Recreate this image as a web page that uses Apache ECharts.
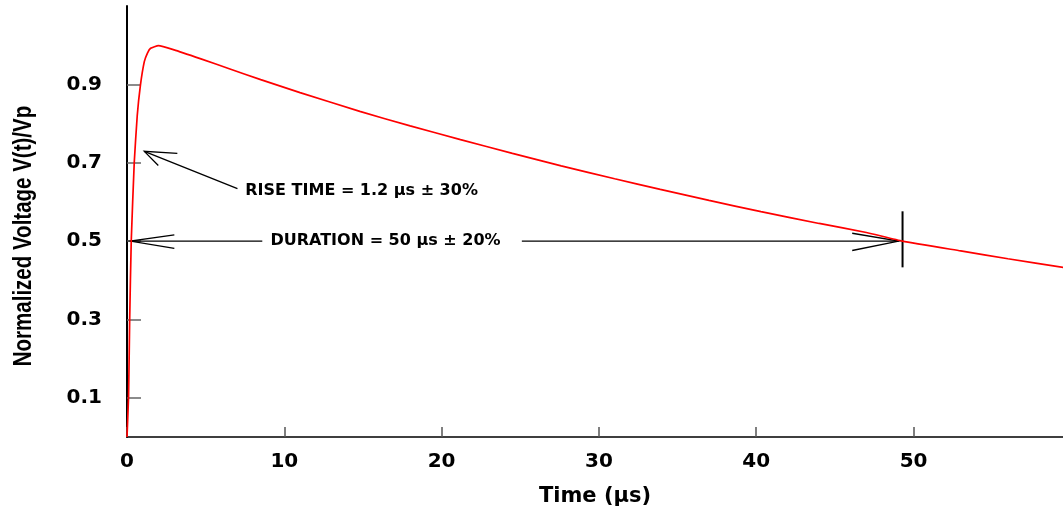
<!DOCTYPE html>
<html>
<head>
<meta charset="utf-8">
<script src="https://cdn.jsdelivr.net/npm/echarts@6/dist/echarts.min.js"></script>
<style>
html,body{margin:0;padding:0;background:#fff;}
#chart{width:1063px;height:512px;}
</style>
</head>
<body>
<div id="chart"></div>
<script>
// Waveform samples: time (µs) and normalized voltage
const timeUs = [0, 0.1, 0.17, 0.27, 0.46, 0.65, 0.85, 1.1, 1.3, 1.5, 2.0, 3.0, 4.7, 6.5, 8.5, 11, 14.8, 18, 21.2, 24.5, 27.6, 31, 33.9, 37, 40.3, 44, 47, 49.3, 53, 56, 59.6];
const voltage = [0, 0.105, 0.30, 0.50, 0.70, 0.82, 0.897, 0.958, 0.98, 0.992, 0.999, 0.988, 0.965, 0.940, 0.912, 0.879, 0.831, 0.794, 0.759, 0.724, 0.692, 0.659, 0.632, 0.604, 0.575, 0.545, 0.522, 0.500, 0.475, 0.455, 0.432];

// Tick labels
const xTicks = [0, 10, 20, 30, 40, 50];
const yTicks = [0.1, 0.3, 0.5, 0.7, 0.9];

// Annotation geometry, in data coordinates (µs, normalized voltage)
const riseShaft = [[7.02, 0.634], [1.10, 0.729]];
const riseHead = [[3.20, 0.724], [1.10, 0.729], [1.99, 0.693]];
const durLeftShaft = [[0.21, 0.5], [8.6, 0.5]];
const durLeftHead = [[3.01, 0.516], [0.21, 0.5], [3.01, 0.4815]];
const durRightShaft = [[25.1, 0.5], [49.06, 0.5]];
const durRightHead = [[46.1, 0.52], [49.06, 0.5], [46.1, 0.476]];
const durMarker = [[49.3, 0.576], [49.3, 0.433]];
const riseText = 'RISE TIME = 1.2 µs ± 30%';
const riseTextPos = [7.52, 0.629];
const durText = 'DURATION = 50 µs ± 20%';
const durTextPos = [9.12, 0.5];

const chart = echarts.init(document.getElementById('chart'), null, {renderer: 'canvas'});
const labelFont = 'DejaVu Sans';

chart.setOption({
  backgroundColor: '#ffffff',
  animation: false,
  grid: {left: 127, right: 0, top: 6, bottom: 74, containLabel: false},
  xAxis: {
    type: 'value', min: 0, max: 59.5,
    axisLine: {show: true, onZero: false, lineStyle: {color: '#000', width: 1.5}},
    axisTick: {show: true, inside: true, length: 10, customValues: xTicks, lineStyle: {color: '#555', width: 1.5}},
    axisLabel: {customValues: xTicks, margin: 15, color: '#000', fontFamily: labelFont, fontWeight: 'bold', fontSize: 20},
    splitLine: {show: false},
    name: 'Time (µs)', nameLocation: 'middle', nameGap: 49,
    nameTextStyle: {color: '#000', fontFamily: labelFont, fontWeight: 'bold', fontSize: 21}
  },
  yAxis: {
    type: 'value', min: 0, max: 1.1,
    axisLine: {show: true, onZero: false, lineStyle: {color: '#000', width: 2}},
    axisTick: {show: true, inside: true, length: 14, customValues: yTicks, lineStyle: {color: '#666', width: 1.5}},
    axisLabel: {customValues: yTicks, margin: 25, color: '#000', fontFamily: labelFont, fontWeight: 'bold', fontSize: 20,
      formatter: v => v.toFixed(1)},
    splitLine: {show: false}
  },
  graphic: [{
    type: 'text', x: 24, y: 236, rotation: Math.PI / 2, scaleX: 0.82,
    style: {text: 'Normalized Voltage V(t)/Vp', align: 'center', verticalAlign: 'middle',
      fill: '#000', font: 'bold 25px "Liberation Sans", Arial, sans-serif'}
  }],
  series: [
    {
      type: 'line', data: timeUs.map((t, i) => [t, voltage[i]]),
      showSymbol: false, smooth: 0.15, lineStyle: {color: '#ff0000', width: 1.7}, z: 5
    },
    {
      type: 'lines', coordinateSystem: 'cartesian2d', polyline: true,
      lineStyle: {color: '#000', width: 1.3, opacity: 1},
      data: [riseShaft, riseHead, durLeftShaft, durLeftHead, durRightShaft, durRightHead].map(c => ({coords: c})),
      z: 4
    },
    {
      type: 'lines', coordinateSystem: 'cartesian2d', polyline: true,
      lineStyle: {color: '#000', width: 2, opacity: 1},
      data: [{coords: durMarker}], z: 4
    },
    {
      type: 'scatter', symbolSize: 0, silent: true,
      itemStyle: {opacity: 1},
      data: [
        {value: riseTextPos, label: {formatter: riseText}},
        {value: durTextPos, label: {formatter: durText}}
      ],
      label: {show: true, position: 'right', distance: 0, color: '#000', opacity: 1,
        fontFamily: labelFont, fontWeight: 'bold', fontSize: 16}
    }
  ]
});
</script>
</body>
</html>
